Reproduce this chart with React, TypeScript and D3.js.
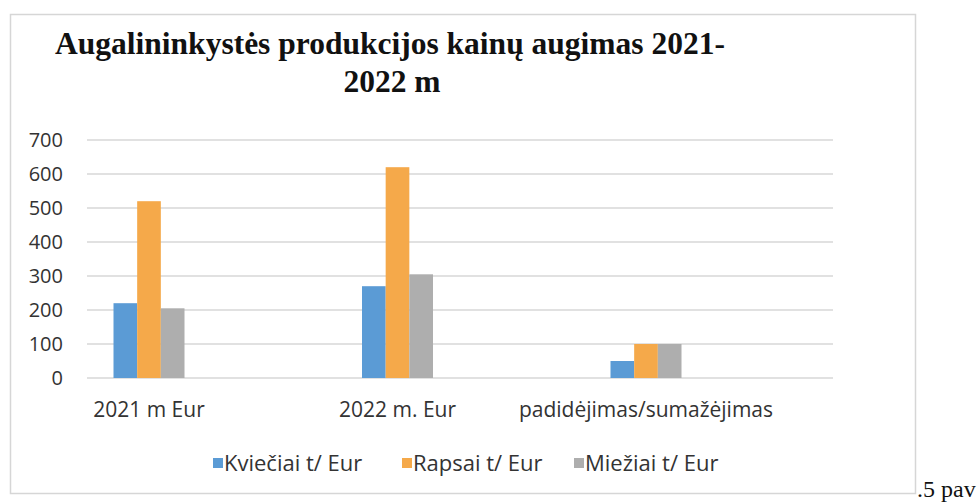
import React from "react";
import * as d3 from "d3";

const title1 = "Augalininkystės produkcijos kainų augimas 2021-";
const title2 = "2022 m";
const categories = ["2021 m Eur", "2022 m. Eur", "padidėjimas/sumažėjimas"];
const seriesNames = ["Kviečiai t/ Eur", "Rapsai t/ Eur", "Miežiai t/ Eur"];
const seriesColors = ["#5B9BD5", "#F5A94A", "#AEAEAE"];
const kvieciai = [220, 270, 50];
const rapsai = [520, 620, 100];
const meziai = [205, 305, 100];
const yTicks = [0, 100, 200, 300, 400, 500, 600, 700];
const caption = ".5 pav";

const W = 978;
const H = 504;

export default function App() {
  const series = [kvieciai, rapsai, meziai];
  const y = d3.scaleLinear().domain([0, 700]).range([378, 140]);
  const x = d3.scaleBand<string>().domain(categories).range([24.75, 770.25]);
  const groupW = 71;
  const inner = d3
    .scaleBand<string>()
    .domain(seriesNames)
    .range([-groupW / 2, groupW / 2]);
  const gridX = [87, 833];
  const sans = "'Open Sans', sans-serif";
  const legendX = [213, 402, 574];
  const serif = "'Liberation Serif', 'Times New Roman', serif";

  return (
    <svg
      width={W}
      height={H}
      style={{ position: "absolute", left: 0, top: 0, background: "#fff" }}
    >
      <rect x={0} y={0} width={W} height={H} fill="#fff" />
      <rect
        x={10.5}
        y={14.5}
        width={905}
        height={479}
        fill="none"
        stroke="#d6d6d6"
        strokeWidth={1.5}
      />
      <text
        x={390}
        y={54}
        textAnchor="middle"
        fontFamily={serif}
        fontWeight="bold"
        fontSize={31.5}
        fill="#111"
      >
        {title1}
      </text>
      <text
        x={392}
        y={92}
        textAnchor="middle"
        fontFamily={serif}
        fontWeight="bold"
        fontSize={31.5}
        fill="#111"
      >
        {title2}
      </text>
      {yTicks.map((t) => (
        <g key={t}>
          <line
            x1={gridX[0]}
            x2={gridX[1]}
            y1={y(t)}
            y2={y(t)}
            stroke="#c4c4c4"
            strokeWidth={1.2}
          />
          <text
            x={63}
            y={y(t)}
            dy="0.35em"
            textAnchor="end"
            fontFamily={sans}
            fontSize={20}
            fill="#333"
          >
            {t}
          </text>
        </g>
      ))}
      {categories.map((c, ci) => (
        <g key={c}>
          {series.map((vals, si) => (
            <rect
              key={si}
              x={(x(c) as number) + x.bandwidth() / 2 + (inner(seriesNames[si]) as number)}
              y={y(vals[ci])}
              width={inner.bandwidth()}
              height={y(0) - y(vals[ci])}
              fill={seriesColors[si]}
            />
          ))}
          <text
            x={(x(c) as number) + x.bandwidth() / 2}
            y={417}
            textAnchor="middle"
            fontFamily={sans}
            fontSize={21}
            fill="#333"
          >
            {c}
          </text>
        </g>
      ))}
      {seriesNames.map((s, i) => (
        <g key={s}>
          <rect x={legendX[i]} y={458} width={10} height={10} fill={seriesColors[i]} />
          <text
            x={legendX[i] + 11}
            y={463}
            dy="0.35em"
            fontFamily={sans}
            fontSize={22}
            fill="#333"
          >
            {s}
          </text>
        </g>
      ))}
      <text
        x={917}
        y={497}
        fontFamily={serif}
        fontSize={24}
        fill="#111"
      >
        {caption}
      </text>
    </svg>
  );
}
